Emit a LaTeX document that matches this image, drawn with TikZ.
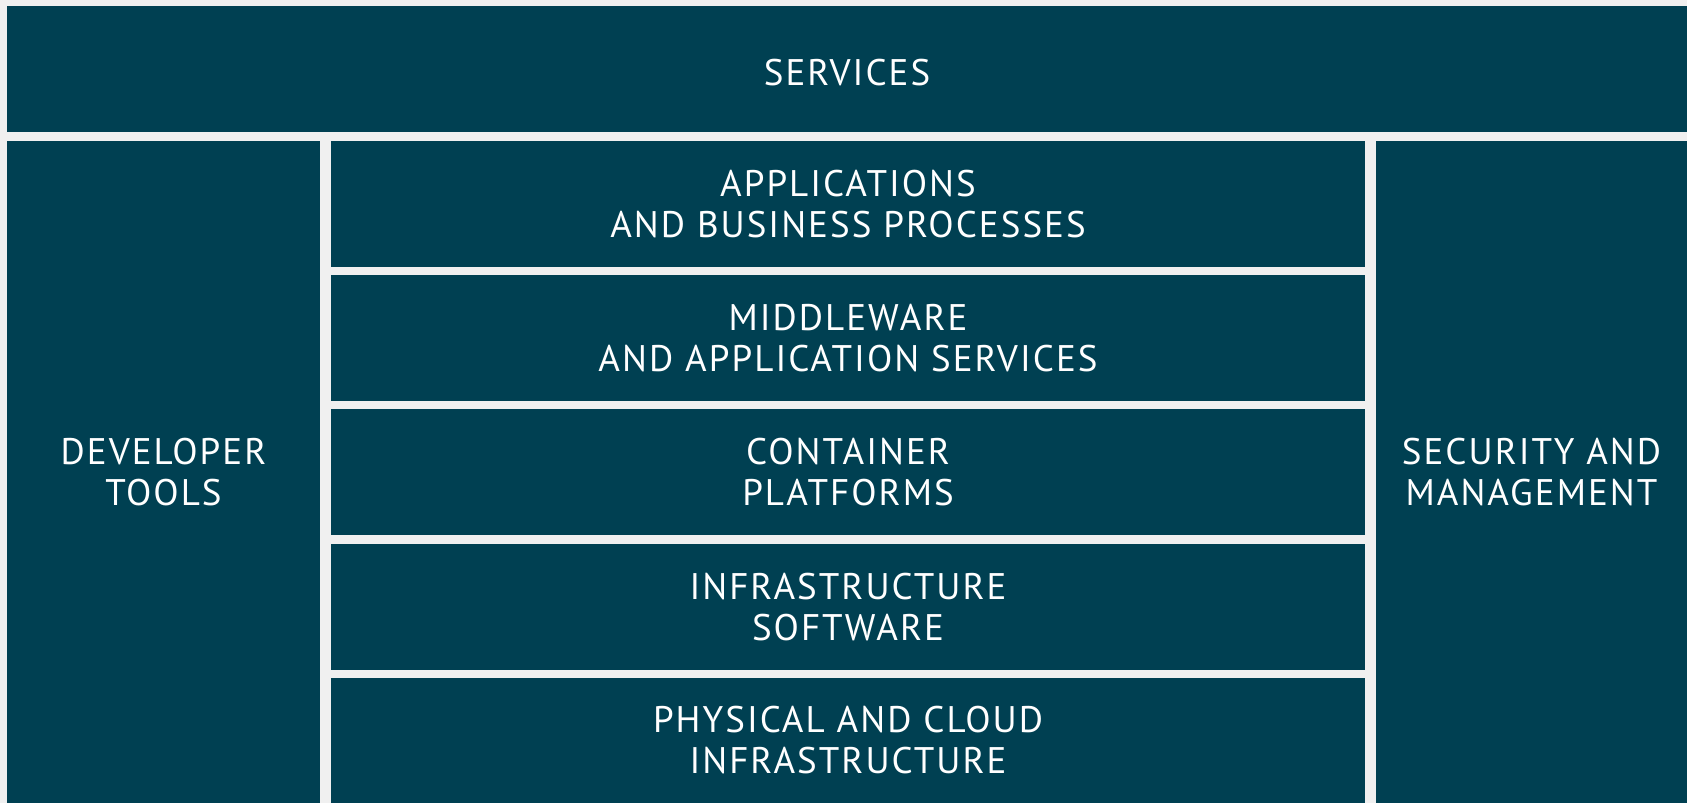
\documentclass[tikz,border=0pt]{standalone}
\usepackage{fontspec}
\setmainfont[LetterSpace=5.5]{PT Sans}
\usetikzlibrary{positioning}

\definecolor{panelbg}{HTML}{F0F0F0}
\definecolor{tealblock}{HTML}{004052}

\tikzset{
  block/.style={fill=tealblock, text=white, inner sep=0pt, align=center,
    font=\fontsize{37}{41}\selectfont},
}

\begin{document}
\begin{tikzpicture}[x=1pt,y=-1pt]
        \fill[panelbg] (0,0) rectangle (1687,803);
        \useasboundingbox (0,0) rectangle (1687,803);
        % top band
        \node[block, minimum width=1680pt, minimum height=126pt] (services) at (847,69) {};
        \node[block, fill=none] (serviceslabel) at ([yshift=-4pt]services.center) {SERVICES};
        % side columns
        \node[block, minimum width=313pt, minimum height=662pt] (devtools) at (163.5,472) {DEVELOPER\\TOOLS};
        \node[block, minimum width=311pt, minimum height=662pt] (secmgmt) at (1531.5,472) {SECURITY AND\\MANAGEMENT};
        % the stack in the middle
        \node[block, minimum width=1034pt, minimum height=126pt] (apps) at (848,204) {APPLICATIONS\\AND BUSINESS PROCESSES};
        \node[block, minimum width=1034pt, minimum height=126pt] (middleware) at (848,338) {MIDDLEWARE\\AND APPLICATION SERVICES};
        \node[block, minimum width=1034pt, minimum height=126pt] (containers) at (848,472) {CONTAINER\\PLATFORMS};
        \node[block, minimum width=1034pt, minimum height=126pt] (infra) at (848,607) {INFRASTRUCTURE\\SOFTWARE};
        \node[block, minimum width=1034pt, minimum height=125pt] (physical) at (848,740.5) {PHYSICAL AND CLOUD\\INFRASTRUCTURE};
      \end{tikzpicture}
\end{document}
